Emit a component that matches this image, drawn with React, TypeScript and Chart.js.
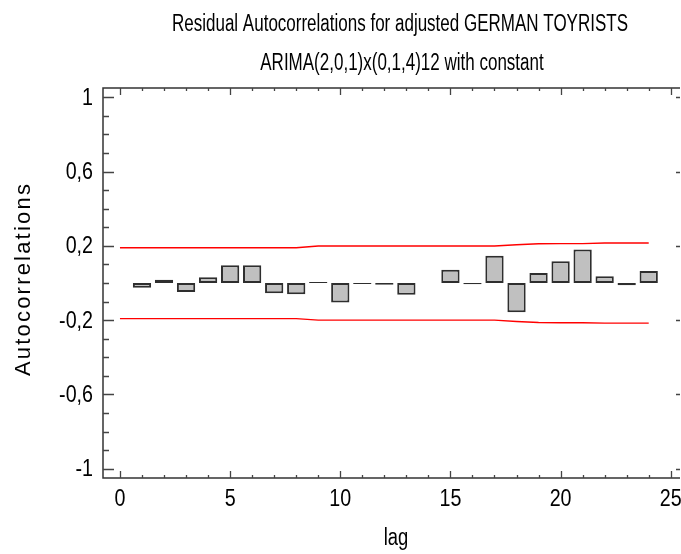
import React, { useEffect, useRef } from 'react';
import { Chart, registerables } from 'chart.js';

Chart.register(...registerables);

const TITLE_LINES = [
  'Residual Autocorrelations for adjusted GERMAN TOYRISTS',
  'ARIMA(2,0,1)x(0,1,4)12 with constant',
];
const X_LABEL = 'lag';
const Y_LABEL = 'Autocorrelations';

const LAGS = [1, 2, 3, 4, 5, 6, 7, 8, 9, 10, 11, 12, 13, 14, 15, 16, 17, 18, 19, 20, 21, 22, 23, 24];
const ACF = [
  -0.025, 0.018, -0.049, 0.031, 0.096, 0.096, -0.055, -0.06, 0.005, -0.105, -0.005, -0.01,
  -0.063, null, 0.072, -0.007, 0.147, -0.158, 0.054, 0.117, 0.181, 0.036, -0.012, 0.065,
];

const LIMIT_LAGS = [0, 1, 2, 3, 4, 5, 6, 7, 8, 9, 10, 11, 12, 13, 14, 15, 16, 17, 18, 19, 20, 21, 22, 23, 24];
const UPPER = [
  0.19, 0.19, 0.19, 0.19, 0.19, 0.19, 0.19, 0.19, 0.19, 0.199, 0.199, 0.199, 0.199,
  0.199, 0.199, 0.199, 0.199, 0.199, 0.206, 0.211, 0.212, 0.212, 0.215, 0.215, 0.215,
];
const LOWER = [
  -0.192, -0.192, -0.192, -0.192, -0.192, -0.192, -0.192, -0.192, -0.192, -0.2, -0.2, -0.2, -0.2,
  -0.2, -0.2, -0.2, -0.2, -0.2, -0.207, -0.213, -0.214, -0.214, -0.216, -0.216, -0.216,
];

const X_TICKS = [0, 5, 10, 15, 20, 25];
const X_MINOR = [0, 1, 2, 3, 4, 5, 6, 7, 8, 9, 10, 11, 12, 13, 14, 15, 16, 17, 18, 19, 20, 21, 22, 23, 24, 25];
const Y_TICKS = [-1, -0.6, -0.2, 0.2, 0.6, 1];
const Y_MINOR = [-1, -0.9, -0.8, -0.7, -0.6, -0.5, -0.4, -0.3, -0.2, -0.1, 0, 0.1, 0.2, 0.3, 0.4, 0.5, 0.6, 0.7, 0.8, 0.9, 1];

const REGULAR = "'Liberation Sans', Arial, sans-serif";

const isMajor = (list: number[], v: number) => list.some((m) => Math.abs(m - v) < 1e-6);
const fmt = (v: number) => String(Math.round(v * 10) / 10).replace('.', ',');

function narrowText(
  ctx: CanvasRenderingContext2D,
  text: string,
  x: number,
  y: number,
  size: number,
  align: CanvasTextAlign,
  sx: number,
) {
  ctx.save();
  ctx.translate(x, y);
  ctx.scale(sx, 1);
  ctx.font = `${size}px ${REGULAR}`;
  ctx.textAlign = align;
  ctx.textBaseline = 'alphabetic';
  ctx.fillStyle = '#000';
  ctx.fillText(text, 0, 0);
  ctx.restore();
}

const framePlugin = {
  id: 'frameTicks',
  afterDraw(chart: any) {
    const { ctx, chartArea, scales } = chart;
    const { left, right, top, bottom } = chartArea;
    const x = scales.x;
    const y = scales.y;
    ctx.save();
    ctx.strokeStyle = '#333';
    ctx.lineWidth = 1.5;
    ctx.beginPath();
    ctx.moveTo(right, top);
    ctx.lineTo(left, top);
    ctx.lineTo(left, bottom);
    ctx.lineTo(right, bottom);
    ctx.stroke();

    ctx.lineWidth = 1.3;
    ctx.strokeStyle = '#444';
    ctx.beginPath();
    Y_MINOR.forEach((v) => {
      const py = Math.round(y.getPixelForValue(v)) + 0.5;
      const len = isMajor(Y_TICKS, v) ? 11 : 6;
      ctx.moveTo(left, py);
      ctx.lineTo(left + len, py);
      if (isMajor(Y_TICKS, v)) {
        ctx.moveTo(right - 4, py);
        ctx.lineTo(right, py);
      }
    });
    X_MINOR.forEach((v) => {
      const px = Math.round(x.getPixelForValue(v)) + 0.5;
      const len = isMajor(X_TICKS, v) ? 7 : 3;
      ctx.moveTo(px, bottom);
      ctx.lineTo(px, bottom - len);
      ctx.moveTo(px, top);
      ctx.lineTo(px, top + len);
    });
    ctx.stroke();
    ctx.restore();

    // tick labels
    Y_TICKS.forEach((v) => {
      narrowText(ctx, fmt(v), left - 10, y.getPixelForValue(v) + 7.5, 24, 'right', 0.82);
    });
    X_TICKS.forEach((v) => {
      narrowText(ctx, fmt(v), x.getPixelForValue(v), bottom + 28, 24, 'center', 0.82);
    });

    // axis titles
    narrowText(ctx, X_LABEL, 396, 545, 23, 'center', 0.8);
    ctx.save();
    ctx.translate(24, 279);
    ctx.rotate(-Math.PI / 2);
    ctx.font = `22px ${REGULAR}`;
    (ctx as any).letterSpacing = '2.2px';
    ctx.textAlign = 'center';
    ctx.textBaseline = 'middle';
    ctx.fillStyle = '#000';
    ctx.fillText(Y_LABEL, 0, 0);
    ctx.restore();

    // chart title
    ctx.save();
    ctx.font = `23px ${REGULAR}`;
    const sx = 456 / ctx.measureText(TITLE_LINES[0]).width;
    ctx.restore();
    narrowText(ctx, TITLE_LINES[0], 400, 31, 23, 'center', sx);
    narrowText(ctx, TITLE_LINES[1], 402, 70, 23, 'center', sx);
  },
};

export default function App() {
  const ref = useRef<HTMLCanvasElement | null>(null);

  useEffect(() => {
    document.body.style.margin = '0';
    const canvas = ref.current;
    if (!canvas) return;
    const chart = new Chart(canvas, {
      type: 'bar',
      data: {
        datasets: [
          {
            type: 'line',
            data: LIMIT_LAGS.map((l, i) => ({ x: l, y: UPPER[i] })),
            borderColor: '#ff0000',
            borderWidth: 1.4,
            pointRadius: 0,
            tension: 0,
          } as any,
          {
            type: 'line',
            data: LIMIT_LAGS.map((l, i) => ({ x: l, y: LOWER[i] })),
            borderColor: '#ff0000',
            borderWidth: 1.4,
            pointRadius: 0,
            tension: 0,
          } as any,
          {
            type: 'bar',
            data: LAGS.map((l, i) => ({ x: l, y: ACF[i] })),
            backgroundColor: '#c0c0c0',
            borderColor: '#2e2e2e',
            borderWidth: 2,
            borderSkipped: false,
            barPercentage: 0.83,
            categoryPercentage: 1,
          } as any,
        ],
      },
      options: {
        animation: false,
        responsive: false,
        maintainAspectRatio: false,
        layout: { padding: { left: 0, right: 1, top: 88, bottom: 0 } },
        plugins: {
          legend: { display: false },
          tooltip: { enabled: false },
          title: { display: false },
        },
        scales: {
          x: {
            type: 'linear',
            min: -0.77,
            max: 25.42,
            offset: false,
            grid: { display: false, drawTicks: false },
            border: { display: false },
            ticks: { display: false, includeBounds: false },
            afterBuildTicks: (s: any) => {
              s.ticks = X_TICKS.map((v) => ({ value: v }));
            },
            afterFit: (s: any) => {
              s.height = 76;
              s.paddingLeft = 0;
              s.paddingRight = 0;
            },
          },
          y: {
            min: -1.05,
            max: 1.05,
            grid: { display: false, drawTicks: false },
            border: { display: false },
            ticks: { display: false, includeBounds: false },
            afterBuildTicks: (s: any) => {
              s.ticks = Y_TICKS.map((v) => ({ value: v }));
            },
            afterFit: (s: any) => {
              s.width = 103;
              s.paddingTop = 0;
              s.paddingBottom = 0;
            },
          },
        },
      },
      plugins: [framePlugin],
    } as any);
    return () => chart.destroy();
  }, []);

  return (
    <div style={{ width: 681, height: 554, position: 'relative' }}>
      <canvas ref={ref} width={681} height={554} style={{ width: 681, height: 554, display: 'block' }} />
    </div>
  );
}
